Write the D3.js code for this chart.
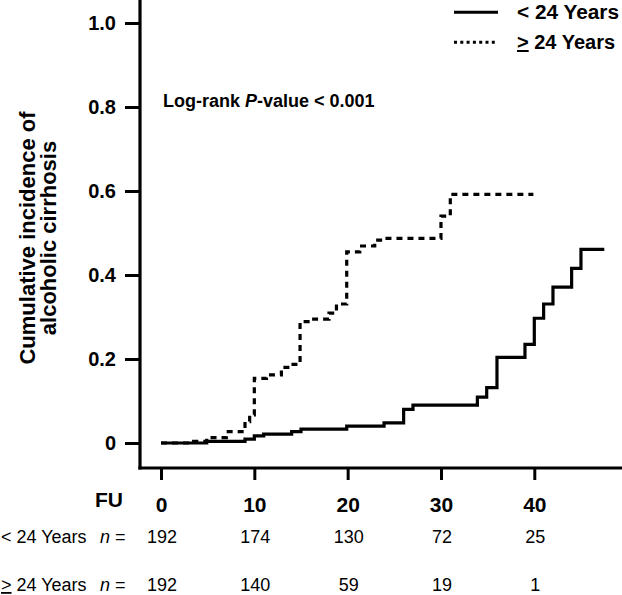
<!DOCTYPE html>
<html>
<head>
<meta charset="utf-8">
<script src="https://cdn.jsdelivr.net/npm/d3@7"></script>
<style>
  html, body { margin: 0; padding: 0; background: #fff; }
  svg { display: block; font-family: "Liberation Sans", Arial, sans-serif; }
</style>
</head>
<body>
<svg id="chart" width="622" height="595"></svg>
<script>
// ---- data ----
const yTicks = [0, 0.2, 0.4, 0.6, 0.8, 1.0];
const yTickLabels = ["0", "0.2", "0.4", "0.6", "0.8", "1.0"];
const xTicks = [0, 10, 20, 30, 40];
const xTickLabels = ["0", "10", "20", "30", "40"];

// < 24 Years (solid)
const lt24Time = [0, 4.9, 9, 10, 11, 14, 15, 19.9, 23.9, 26, 27, 33.9, 34.9, 36, 39, 40, 41, 42, 44, 45, 47.5];
const lt24Cum  = [0, 0.004, 0.009, 0.017, 0.021, 0.027, 0.033, 0.040, 0.048, 0.080, 0.090, 0.109, 0.132, 0.204, 0.235, 0.297, 0.331, 0.371, 0.416, 0.461, 0.461];

// >= 24 Years (dotted)
const ge24Time = [0, 3.5, 4.9, 7, 9, 9.5, 10, 11.3, 12.9, 13.9, 14.9, 16, 18, 18.8, 19.9, 21.3, 22.9, 23.7, 30, 31, 39.9];
const ge24Cum  = [0, 0.004, 0.013, 0.027, 0.051, 0.067, 0.154, 0.162, 0.180, 0.187, 0.289, 0.295, 0.309, 0.331, 0.455, 0.469, 0.483, 0.487, 0.540, 0.592, 0.592];

const riskLt24 = [192, 174, 130, 72, 25];
const riskGe24 = [192, 140, 59, 19, 1];

// ---- drawing ----
const svg = d3.select("#chart");
const x = d3.scaleLinear().domain([0, 40]).range([161, 534.3]);
const y = d3.scaleLinear().domain([0, 1]).range([443, 23]);

const axisX0 = 140, axisY0 = 468;

// axes lines
svg.append("line").attr("x1", axisX0).attr("x2", axisX0).attr("y1", 0).attr("y2", axisY0 + 1.6)
  .attr("stroke", "#000").attr("stroke-width", 3.2);
svg.append("line").attr("x1", axisX0 - 1.6).attr("x2", 622).attr("y1", axisY0).attr("y2", axisY0)
  .attr("stroke", "#000").attr("stroke-width", 3.2);

// y ticks
const yAxis = d3.axisLeft(y).tickValues(yTicks).tickSize(15).tickPadding(9)
  .tickFormat((d, i) => yTickLabels[i]);
const gy = svg.append("g").attr("transform", `translate(${axisX0},0)`).call(yAxis);
gy.select(".domain").remove();
gy.selectAll(".tick line").attr("stroke", "#000").attr("stroke-width", 3);
gy.selectAll(".tick text").attr("font-size", 20).attr("font-weight", "bold")
  .attr("fill", "#000").attr("font-family", "Liberation Sans, Arial, sans-serif");

// x ticks
const xAxis = d3.axisBottom(x).tickValues(xTicks).tickSize(12).tickPadding(17)
  .tickFormat((d, i) => xTickLabels[i]);
const gx = svg.append("g").attr("transform", `translate(0,${axisY0})`).call(xAxis);
gx.select(".domain").remove();
gx.selectAll(".tick line").attr("stroke", "#000").attr("stroke-width", 3);
gx.selectAll(".tick text").attr("font-size", 21).attr("font-weight", "bold")
  .attr("fill", "#000").attr("font-family", "Liberation Sans, Arial, sans-serif");

// y axis title
const yt = svg.append("text").attr("transform", "translate(35,238) rotate(-90)")
  .attr("text-anchor", "middle").attr("font-size", 22).attr("font-weight", "bold");
yt.append("tspan").attr("x", 0).attr("y", 0).text("Cumulative incidence of");
yt.append("tspan").attr("x", 0).attr("y", 21).text("alcoholic cirrhosis");

// curves
const line = d3.line().curve(d3.curveStepAfter).x(d => x(d[0])).y(d => y(d[1]));
const lt24 = lt24Time.map((t, i) => [t, lt24Cum[i]]);
const ge24 = ge24Time.map((t, i) => [t, ge24Cum[i]]);

svg.append("path").datum(ge24).attr("d", line).attr("fill", "none")
  .attr("stroke", "#000").attr("stroke-width", 3.2).attr("stroke-dasharray", "6,5");
svg.append("path").datum(lt24).attr("d", line).attr("fill", "none")
  .attr("stroke", "#000").attr("stroke-width", 3.2);

// log-rank text
const lr = svg.append("text").attr("x", 163).attr("y", 107).attr("font-size", 18).attr("font-weight", "bold");
lr.append("tspan").text("Log-rank ");
lr.append("tspan").attr("font-style", "italic").text("P");
lr.append("tspan").text("-value < 0.001");

// legend
svg.append("line").attr("x1", 454).attr("x2", 498).attr("y1", 12.3).attr("y2", 12.3)
  .attr("stroke", "#000").attr("stroke-width", 3);
svg.append("line").attr("x1", 454).attr("x2", 498).attr("y1", 42.3).attr("y2", 42.3)
  .attr("stroke", "#000").attr("stroke-width", 3).attr("stroke-dasharray", "3,3.3");
svg.append("text").attr("x", 517).attr("y", 19).attr("font-size", 20).attr("font-weight", "bold")
  .attr("textLength", 102).attr("lengthAdjust", "spacingAndGlyphs").text("< 24 Years");
const lg2 = svg.append("text").attr("x", 517).attr("y", 49).attr("font-size", 20).attr("font-weight", "bold");
lg2.append("tspan").attr("text-decoration", "underline").text(">");
lg2.append("tspan").text(" 24 Years");

// risk table
svg.append("text").attr("x", 123).attr("y", 507).attr("text-anchor", "end")
  .attr("font-size", 21).attr("font-weight", "bold").text("FU");

function riskRow(yPos, labelParts, values) {
  const t = svg.append("text").attr("x", 1).attr("y", yPos).attr("font-size", 18);
  labelParts(t);
  svg.append("text").attr("x", 100).attr("y", yPos).attr("font-size", 18)
    .call(s => { s.append("tspan").attr("font-style", "italic").text("n"); s.append("tspan").text(" ="); });
  svg.selectAll(null).data(values).enter().append("text")
    .attr("x", (d, i) => x(xTicks[i]) + 1).attr("y", yPos)
    .attr("text-anchor", "middle").attr("font-size", 18).text(d => d);
}
riskRow(543, t => t.text("< 24 Years"), riskLt24);
riskRow(591, t => { t.append("tspan").attr("text-decoration", "underline").text(">"); t.append("tspan").text(" 24 Years"); }, riskGe24);
</script>
</body>
</html>
